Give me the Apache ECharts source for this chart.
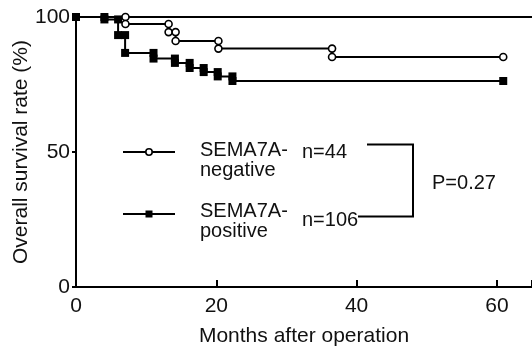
<!DOCTYPE html>
<html>
<head>
<meta charset="utf-8">
<script src="https://cdn.jsdelivr.net/npm/echarts@6/dist/echarts.min.js"></script>
<style>
html,body{margin:0;padding:0;background:#fff;}
#chart{width:532px;height:354px;}
</style>
</head>
<body>
<div id="chart"></div>
<script>
// Kaplan-Meier data
var negTimes = [0, 7.05, 13.2, 14.2, 20.3, 36.5, 60.9];
var negSurv  = [100, 97.4, 94.4, 91.1, 88.3, 85.2, 85.2];
var posTimes = [0, 4.05, 6.0, 7.0, 11.05, 14.1, 16.2, 18.2, 20.2, 22.3, 60.9];
var posSurv  = [100, 99.1, 93.3, 86.7, 84.6, 83.0, 81.1, 79.6, 78.0, 76.3, 76.3];
var xTicks = [0, 20, 40, 60];
var yTicks = [0, 50, 100];
var negName = 'SEMA7A-negative';
var posName = 'SEMA7A-positive';
var negN = 'n=44';
var posN = 'n=106';
var pText = 'P=0.27';

function kmPoints(t, s, hideFirst) {
  var pts = [{value: [t[0], s[0]], symbol: hideFirst ? 'none' : undefined}];
  for (var i = 1; i < t.length; i++) {
    if (s[i] !== s[i - 1]) {
      pts.push({value: [t[i], s[i - 1]]});
    }
    pts.push({value: [t[i], s[i]]});
  }
  return pts;
}

var FONT = 'Liberation Sans, Arial, Helvetica, sans-serif';
var chart = echarts.init(document.getElementById('chart'));
var option = {
  animation: false,
  backgroundColor: '#fff',
  grid: {left: 76, right: 0, top: 17, bottom: 67, containLabel: false, outerBoundsMode: 'none'},
  xAxis: [{
    type: 'value', min: 0, max: 65, interval: 20,
    name: 'Months after operation', nameLocation: 'middle', nameGap: 39, nameMoveOverlap: false,
    nameTextStyle: {fontFamily: FONT, fontSize: 21, color: '#111'},
    axisLine: {lineStyle: {color: '#000', width: 2}},
    axisTick: {inside: true, length: 7, lineStyle: {color: '#000', width: 2}},
    axisLabel: {fontFamily: FONT, fontSize: 21, color: '#111', margin: 9,
      formatter: function (v) { return xTicks.indexOf(v) >= 0 ? String(v) : ''; }},
    splitLine: {show: false}
  }, {
    type: 'value', position: 'top', min: 0, max: 65,
    axisLine: {show: true, lineStyle: {color: '#000', width: 2}},
    axisTick: {show: false}, axisLabel: {show: false}, splitLine: {show: false}
  }],
  yAxis: {
    type: 'value', min: 0, max: 100, interval: 50,
    name: 'Overall survival rate (%)', nameLocation: 'middle', nameGap: 44, nameMoveOverlap: false,
    nameTextStyle: {fontFamily: FONT, fontSize: 21, color: '#111'},
    axisLine: {show: true, lineStyle: {color: '#000', width: 2}},
    axisTick: {show: true, length: 4, lineStyle: {color: '#000', width: 2}},
    axisLabel: {fontFamily: FONT, fontSize: 21, color: '#111', margin: 6,
      formatter: function (v) { return yTicks.indexOf(v) >= 0 ? String(v) : ''; }},
    splitLine: {show: false}
  },
  series: [{
    name: negName, type: 'line', data: kmPoints(negTimes, negSurv, true),
    showAllSymbol: true, symbol: 'circle', symbolSize: 7, z: 3,
    lineStyle: {color: '#000', width: 2},
    itemStyle: {color: '#fff', borderColor: '#000', borderWidth: 1.6}
  }, {
    name: posName, type: 'line', data: kmPoints(posTimes, posSurv, false),
    showAllSymbol: true, symbol: 'rect', symbolSize: 8, z: 4,
    lineStyle: {color: '#000', width: 2},
    itemStyle: {color: '#000', borderColor: '#000', borderWidth: 0}
  }],
  graphic: [
    {type: 'line', shape: {x1: 123, y1: 152, x2: 175, y2: 152}, style: {stroke: '#000', lineWidth: 2}},
    {type: 'circle', shape: {cx: 149, cy: 152, r: 3.2}, style: {fill: '#fff', stroke: '#000', lineWidth: 1.6}, z: 10},
    {type: 'line', shape: {x1: 123, y1: 214, x2: 175, y2: 214}, style: {stroke: '#000', lineWidth: 2}},
    {type: 'rect', shape: {x: 145.5, y: 210.5, width: 7, height: 7}, style: {fill: '#000'}, z: 10},
    {type: 'text', x: 200, y: 150, style: {text: 'SEMA7A-', font: '20px ' + FONT, fill: '#111', textVerticalAlign: 'middle'}},
    {type: 'text', x: 200, y: 170.5, style: {text: 'negative', font: '20px ' + FONT, fill: '#111', textVerticalAlign: 'middle'}},
    {type: 'text', x: 302, y: 152.5, style: {text: negN, font: '20px ' + FONT, fill: '#111', textVerticalAlign: 'middle'}},
    {type: 'text', x: 200, y: 211.5, style: {text: 'SEMA7A-', font: '20px ' + FONT, fill: '#111', textVerticalAlign: 'middle'}},
    {type: 'text', x: 200, y: 231.5, style: {text: 'positive', font: '20px ' + FONT, fill: '#111', textVerticalAlign: 'middle'}},
    {type: 'text', x: 302, y: 220.5, style: {text: posN, font: '20px ' + FONT, fill: '#111', textVerticalAlign: 'middle'}},
    {type: 'polyline', shape: {points: [[367, 144.5], [413, 144.5], [413, 216.5], [358, 216.5]]}, style: {stroke: '#000', lineWidth: 2, fill: null}},
    {type: 'text', x: 432, y: 183.5, style: {text: pText, font: '20px ' + FONT, fill: '#111', textVerticalAlign: 'middle'}}
  ]
};
chart.setOption(option);
</script>
</body>
</html>
